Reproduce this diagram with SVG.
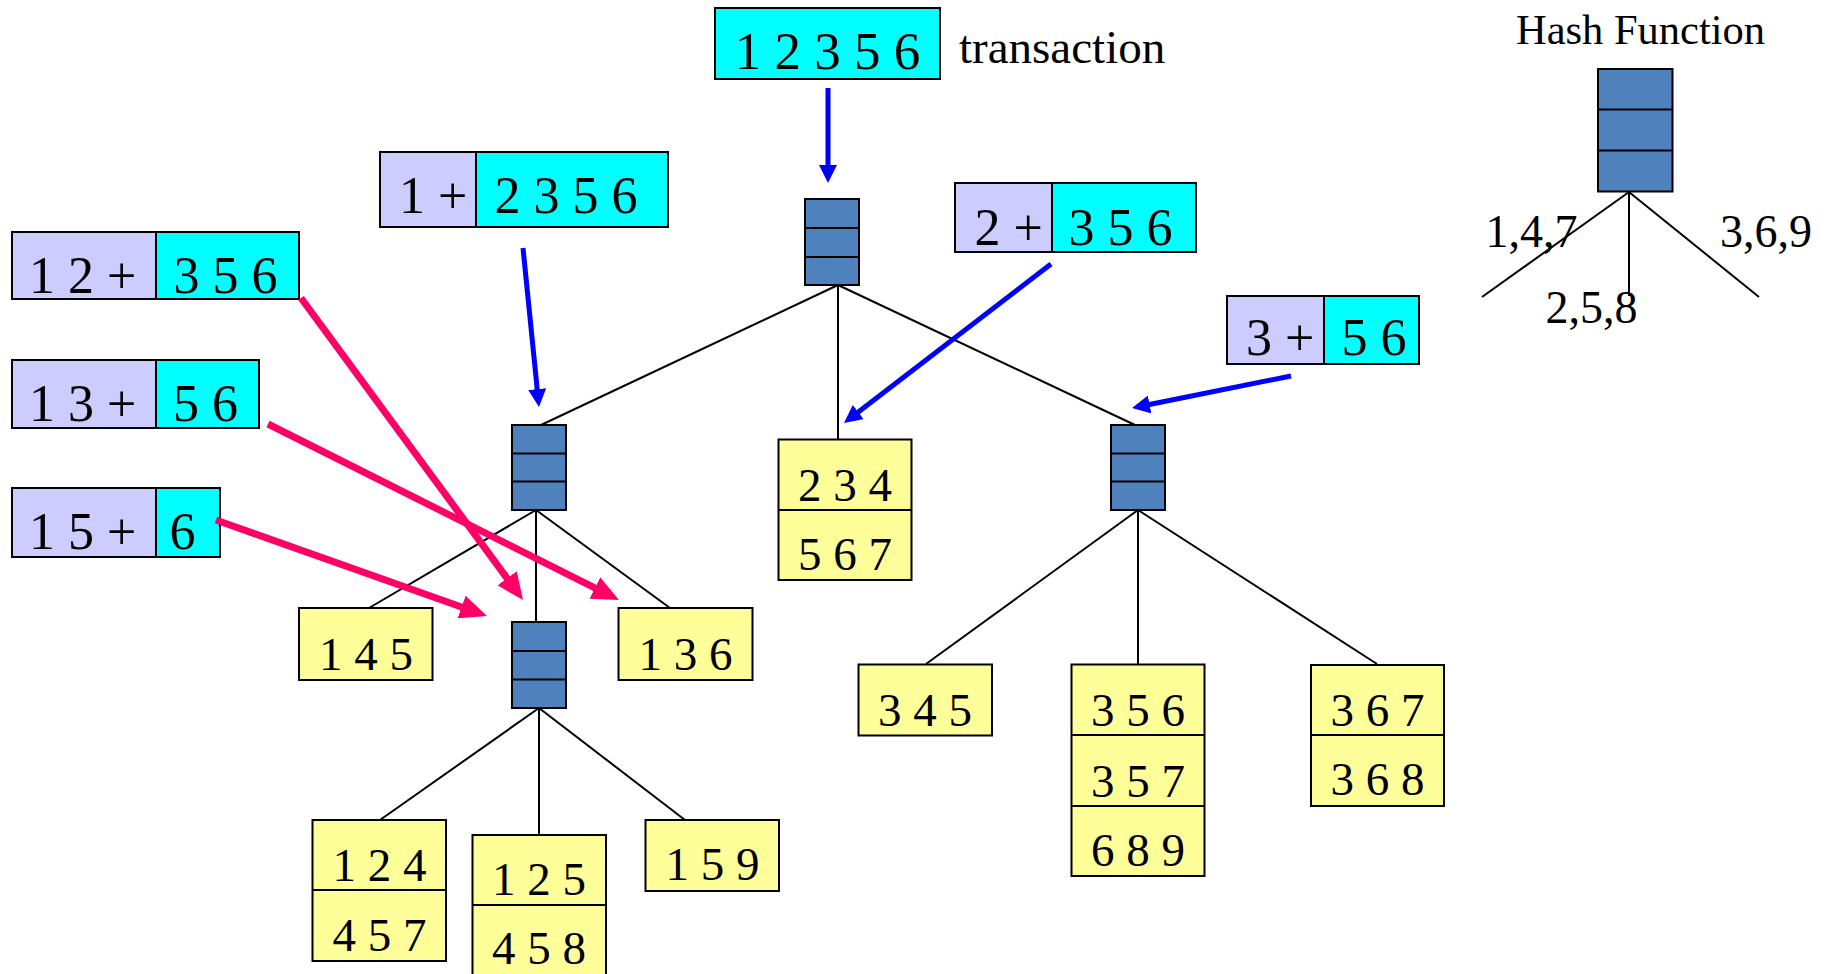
<svg xmlns="http://www.w3.org/2000/svg" width="1831" height="974" viewBox="0 0 1831 974">
<style>
text{font-family:"Liberation Serif","Times New Roman",serif;fill:#000}
.big{font-size:52px}
.num{font-size:47px;text-anchor:middle}
.lbl{font-size:46px}
.pre{fill:#CCCCFF;stroke:#000;stroke-width:2}
.cy{fill:#00FFFF;stroke:#000;stroke-width:2}
.leaf{fill:#FFFF99;stroke:#000;stroke-width:2}
.hash{fill:#4F81BD;stroke:#000;stroke-width:2}
.edge{stroke:#000;stroke-width:2;fill:none}
.blue{stroke:#0000FF;stroke-width:5;fill:none;marker-end:url(#ab)}
.pink{stroke:#FF0066;stroke-width:7;fill:none;marker-end:url(#ap)}
</style>
<defs>
<marker id="ab" markerUnits="userSpaceOnUse" markerWidth="18" markerHeight="18" refX="4" refY="9" orient="auto"><path d="M0,0 L18,9 L0,18 z" fill="#0000FF"/></marker>
<marker id="ap" markerUnits="userSpaceOnUse" markerWidth="27" markerHeight="24" refX="6" refY="12" orient="auto"><path d="M0,0 L27,12 L0,24 z" fill="#FF0066"/></marker>
</defs>
<rect width="1831" height="974" fill="#fff"/>

<g id="connectors">
<line class="edge" x1="838" y1="285" x2="541" y2="425"/>
<line class="edge" x1="838" y1="285" x2="838" y2="439"/>
<line class="edge" x1="838" y1="285" x2="1135" y2="425"/>
<line class="edge" x1="536" y1="510" x2="369" y2="608"/>
<line class="edge" x1="536" y1="510" x2="536" y2="622"/>
<line class="edge" x1="536" y1="510" x2="670" y2="608"/>
<line class="edge" x1="539" y1="708" x2="380" y2="820"/>
<line class="edge" x1="539" y1="708" x2="539" y2="835"/>
<line class="edge" x1="539" y1="708" x2="685" y2="820"/>
<line class="edge" x1="1138" y1="510" x2="926" y2="664"/>
<line class="edge" x1="1138" y1="510" x2="1138" y2="664"/>
<line class="edge" x1="1138" y1="510" x2="1377" y2="664"/>
<line class="edge" x1="1629" y1="192" x2="1482" y2="297"/>
<line class="edge" x1="1629" y1="192" x2="1629" y2="296"/>
<line class="edge" x1="1629" y1="192" x2="1759" y2="297"/>
</g>

<g id="transaction">
<rect class="cy" x="715" y="8" width="225" height="71"/>
<text class="big" style="font-size:53px" x="827.5" y="69" text-anchor="middle">1 2 3 5 6</text>
<text x="959" y="63" style="font-size:47px">transaction</text>
</g>

<g id="hash-legend">
<text x="1516" y="44" style="font-size:42.5px">Hash Function</text>
<rect class="hash" x="1598" y="69" width="74.5" height="122.5"/>
<line class="edge" x1="1598" y1="109.5" x2="1672.5" y2="109.5"/>
<line class="edge" x1="1598" y1="150.5" x2="1672.5" y2="150.5"/>
<text class="lbl" x="1485.5" y="246.5">1,4,7</text>
<text class="lbl" x="1545.5" y="323">2,5,8</text>
<text class="lbl" x="1720" y="246.5">3,6,9</text>
</g>

<g id="hash-root">
<rect class="hash" x="805" y="199" width="54" height="86"/>
<line class="edge" x1="805" y1="228" x2="859" y2="228"/>
<line class="edge" x1="805" y1="257" x2="859" y2="257"/>
</g>
<g id="hash-left">
<rect class="hash" x="512" y="425" width="54" height="85"/>
<line class="edge" x1="512" y1="453.5" x2="566" y2="453.5"/>
<line class="edge" x1="512" y1="481.5" x2="566" y2="481.5"/>
</g>
<g id="hash-lower">
<rect class="hash" x="512" y="622" width="54" height="86"/>
<line class="edge" x1="512" y1="651" x2="566" y2="651"/>
<line class="edge" x1="512" y1="679.5" x2="566" y2="679.5"/>
</g>
<g id="hash-right">
<rect class="hash" x="1111" y="425" width="54" height="85"/>
<line class="edge" x1="1111" y1="453.5" x2="1165" y2="453.5"/>
<line class="edge" x1="1111" y1="481.5" x2="1165" y2="481.5"/>
</g>

<g id="sub-1">
<rect class="pre" x="380" y="152" width="96" height="75"/>
<rect class="cy" x="476" y="152" width="192" height="75"/>
<text class="big" x="399" y="213">1 +</text>
<text class="big" x="494.5" y="213">2 3 5 6</text>
</g>
<g id="sub-2">
<rect class="pre" x="955" y="183" width="97" height="69"/>
<rect class="cy" x="1052" y="183" width="144" height="69"/>
<text class="big" x="974.5" y="245">2 +</text>
<text class="big" x="1068.5" y="245">3 5 6</text>
</g>
<g id="sub-3">
<rect class="pre" x="1227" y="296" width="97" height="68"/>
<rect class="cy" x="1324" y="296" width="95" height="68"/>
<text class="big" x="1246" y="355">3 +</text>
<text class="big" x="1341.5" y="355">5 6</text>
</g>
<g id="sub-12">
<rect class="pre" x="12" y="232" width="144" height="67"/>
<rect class="cy" x="156" y="232" width="143" height="67"/>
<text class="big" x="29" y="293">1 2 +</text>
<text class="big" x="173.5" y="293">3 5 6</text>
</g>
<g id="sub-13">
<rect class="pre" x="12" y="360" width="144" height="68"/>
<rect class="cy" x="156" y="360" width="103" height="68"/>
<text class="big" x="29" y="421">1 3 +</text>
<text class="big" x="173" y="421">5 6</text>
</g>
<g id="sub-15">
<rect class="pre" x="12" y="488" width="144" height="69"/>
<rect class="cy" x="156" y="488" width="64" height="69"/>
<text class="big" x="29" y="549">1 5 +</text>
<text class="big" x="169.5" y="549">6</text>
</g>

<g id="leaf-234-567">
<rect class="leaf" x="778.5" y="439.5" width="133" height="140.5"/>
<line class="edge" x1="778.5" y1="510" x2="911.5" y2="510"/>
<text class="num" x="845" y="501">2 3 4</text>
<text class="num" x="845" y="570">5 6 7</text>
</g>
<g id="leaf-145">
<rect class="leaf" x="299" y="608" width="133.5" height="72"/>
<text class="num" x="366" y="670">1 4 5</text>
</g>
<g id="leaf-136">
<rect class="leaf" x="618.5" y="608" width="134" height="72"/>
<text class="num" x="685.5" y="670">1 3 6</text>
</g>
<g id="leaf-124-457">
<rect class="leaf" x="312.5" y="820" width="133.5" height="141"/>
<line class="edge" x1="312.5" y1="890" x2="446" y2="890"/>
<text class="num" x="379.5" y="881">1 2 4</text>
<text class="num" x="379.5" y="951">4 5 7</text>
</g>
<g id="leaf-125-458">
<rect class="leaf" x="472.5" y="835" width="133.5" height="145"/>
<line class="edge" x1="472.5" y1="905" x2="606" y2="905"/>
<text class="num" x="539" y="895">1 2 5</text>
<text class="num" x="539" y="964">4 5 8</text>
</g>
<g id="leaf-159">
<rect class="leaf" x="645.5" y="820" width="133.5" height="71"/>
<text class="num" x="712.5" y="880">1 5 9</text>
</g>
<g id="leaf-345">
<rect class="leaf" x="858.5" y="664.5" width="133.5" height="71"/>
<text class="num" x="925" y="726">3 4 5</text>
</g>
<g id="leaf-356-357-689">
<rect class="leaf" x="1071.5" y="664.5" width="133" height="211.5"/>
<line class="edge" x1="1071.5" y1="735" x2="1204.5" y2="735"/>
<line class="edge" x1="1071.5" y1="806" x2="1204.5" y2="806"/>
<text class="num" x="1138" y="726">3 5 6</text>
<text class="num" x="1138" y="797">3 5 7</text>
<text class="num" x="1138" y="866">6 8 9</text>
</g>
<g id="leaf-367-368">
<rect class="leaf" x="1311" y="665" width="133" height="141"/>
<line class="edge" x1="1311" y1="735" x2="1444" y2="735"/>
<text class="num" x="1377.5" y="726">3 6 7</text>
<text class="num" x="1377.5" y="795">3 6 8</text>
</g>

<g id="arrows">
<line class="blue" x1="828" y1="88" x2="828" y2="169"/>
<line class="blue" x1="523" y1="248" x2="537.6" y2="393.1"/>
<line class="blue" x1="1051" y1="264" x2="855.1" y2="414.5"/>
<line class="blue" x1="1291" y1="376" x2="1145.7" y2="405.2"/>
<line class="pink" x1="301" y1="298" x2="510.6" y2="583.1"/>
<line class="pink" x1="268" y1="424" x2="600.2" y2="590.6"/>
<line class="pink" x1="216" y1="520" x2="467.2" y2="609"/>
</g>
</svg>
